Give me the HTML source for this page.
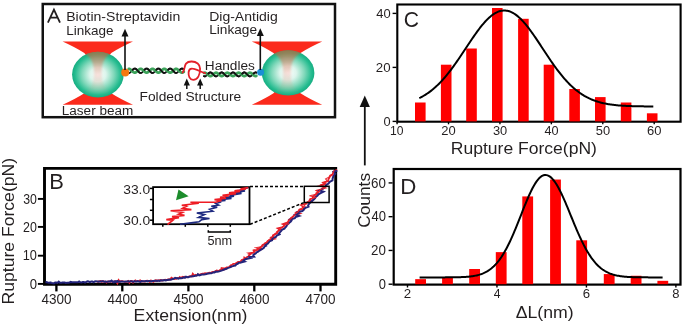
<!DOCTYPE html>
<html><head><meta charset="utf-8"><title>Figure</title>
<style>html,body{margin:0;padding:0;background:#fff;width:685px;height:325px;overflow:hidden}svg{display:block;will-change:transform}text{font-family:"Liberation Sans",sans-serif}</style>
</head><body>
<svg width="685" height="325" viewBox="0 0 685 325" font-family="Liberation Sans, sans-serif">
<defs>
<radialGradient id="sph" cx="50%" cy="50%" r="52%">
 <stop offset="0" stop-color="#fbfefd"/>
 <stop offset="0.3" stop-color="#dcf5ec"/>
 <stop offset="0.6" stop-color="#80d8ba"/>
 <stop offset="0.85" stop-color="#26bc90"/>
 <stop offset="1" stop-color="#10a87c"/>
</radialGradient>
<linearGradient id="ovl" x1="0" y1="0" x2="0" y2="1">
 <stop offset="0.15" stop-color="#d85a30" stop-opacity="0.62"/>
 <stop offset="0.3" stop-color="#e06040" stop-opacity="0.45"/>
 <stop offset="0.5" stop-color="#f07a68" stop-opacity="0.24"/>
 <stop offset="0.68" stop-color="#f07a68" stop-opacity="0.14"/>
 <stop offset="0.85" stop-color="#f07a68" stop-opacity="0.0"/>
</linearGradient>
<filter id="bl" x="-20%" y="-20%" width="140%" height="140%"><feGaussianBlur stdDeviation="1.1"/></filter>
<clipPath id="c1"><ellipse cx="97.9" cy="74.6" rx="25.8" ry="22.8"/></clipPath>
<clipPath id="c2"><ellipse cx="288.1" cy="72.9" rx="26.3" ry="22.6"/></clipPath>
</defs>
<rect width="685" height="325" fill="#fff"/>
<rect x="42.75" y="4" width="292.25" height="113.2" fill="none" stroke="#111" stroke-width="2.5"/>
<path d="M62.599999999999994,41.4 L133.0,41.4 Q119.8,47.4 111.3,52.9 Q102.0,63.0 102.0,73.0 Q102.0,83.0 111.3,93.2 Q119.8,98.7 133.0,104.7 L62.599999999999994,104.7 Q75.8,98.7 84.3,93.2 Q93.6,83.0 93.6,73.0 Q93.6,63.0 84.3,52.9 Q75.8,47.4 62.599999999999994,41.4 Z" fill="#fb2a1c"/>
<ellipse cx="97.9" cy="74.6" rx="25.8" ry="22.8" fill="url(#sph)"/>
<g clip-path="url(#c1)"><path d="M61.8,41.4 L133.8,41.4 L111.8,52.4 C103.8,57.4 101.6,64.0 101.6,73.0 C101.6,82.0 103.8,88.7 111.8,93.7 L133.8,104.7 L61.8,104.7 L83.8,93.7 C91.8,88.7 94.0,82.0 94.0,73.0 C94.0,64.0 91.8,57.4 83.8,52.4 Z" fill="url(#ovl)" filter="url(#bl)"/></g>
<path d="M251.8,41.4 L322.2,41.4 Q309.0,47.4 300.5,52.9 Q291.2,63.0 291.2,73.0 Q291.2,83.0 300.5,93.2 Q309.0,98.7 322.2,104.7 L251.8,104.7 Q265.0,98.7 273.5,93.2 Q282.8,83.0 282.8,73.0 Q282.8,63.0 273.5,52.9 Q265.0,47.4 251.8,41.4 Z" fill="#fb2a1c"/>
<ellipse cx="288.1" cy="72.9" rx="26.3" ry="22.6" fill="url(#sph)"/>
<g clip-path="url(#c2)"><path d="M251.0,41.4 L323.0,41.4 L301.0,52.4 C293.0,57.4 290.8,64.0 290.8,73.0 C290.8,82.0 293.0,88.7 301.0,93.7 L323.0,104.7 L251.0,104.7 L273.0,93.7 C281.0,88.7 283.2,82.0 283.2,73.0 C283.2,64.0 281.0,57.4 273.0,52.4 Z" fill="url(#ovl)" filter="url(#bl)"/></g>
<polyline points="128.80,72.95 129.00,72.95 129.20,72.92 129.40,72.87 129.60,72.80 129.80,72.70 130.00,72.58 130.20,72.44 130.40,72.28 130.60,72.11 130.80,71.92 131.00,71.71 131.20,71.50 131.40,71.27 131.60,71.04 131.80,70.81 132.00,70.57 132.20,70.34 132.40,70.11 132.60,69.89 132.80,69.68 133.00,69.49 133.20,69.30 133.40,69.13 133.60,68.98 133.80,68.85 134.00,68.75 134.20,68.66 134.40,68.60 134.60,68.56 134.80,68.55 135.00,68.56 135.20,68.60 135.40,68.66 135.60,68.75 135.80,68.85 136.00,68.98 136.20,69.13 136.40,69.30 136.60,69.49 136.80,69.68 137.00,69.89 137.20,70.11 137.40,70.34 137.60,70.57 137.80,70.81 138.00,71.04 138.20,71.27 138.40,71.50 138.60,71.71 138.80,71.92 139.00,72.11 139.20,72.28 139.40,72.44 139.60,72.58 139.80,72.70 140.00,72.80 140.20,72.87 140.40,72.92 140.60,72.95 140.80,72.95 141.00,72.92 141.20,72.87 141.40,72.80 141.60,72.70 141.80,72.58 142.00,72.44 142.20,72.28 142.40,72.11 142.60,71.92 142.80,71.71 143.00,71.50 143.20,71.27 143.40,71.04 143.60,70.81 143.80,70.57 144.00,70.34 144.20,70.11 144.40,69.89 144.60,69.68 144.80,69.49 145.00,69.30 145.20,69.13 145.40,68.98 145.60,68.85 145.80,68.75 146.00,68.66 146.20,68.60 146.40,68.56 146.60,68.55 146.80,68.56 147.00,68.60 147.20,68.66 147.40,68.75 147.60,68.85 147.80,68.98 148.00,69.13 148.20,69.30 148.40,69.49 148.60,69.68 148.80,69.89 149.00,70.11 149.20,70.34 149.40,70.57 149.60,70.81 149.80,71.04 150.00,71.27 150.20,71.50 150.40,71.71 150.60,71.92 150.80,72.11 151.00,72.28 151.20,72.44 151.40,72.58 151.60,72.70 151.80,72.80 152.00,72.87 152.20,72.92 152.40,72.95 152.60,72.95 152.80,72.92 153.00,72.87 153.20,72.80 153.40,72.70 153.60,72.58 153.80,72.44 154.00,72.28 154.20,72.11 154.40,71.92 154.60,71.71 154.80,71.50 155.00,71.27 155.20,71.04 155.40,70.81 155.60,70.57 155.80,70.34 156.00,70.11 156.20,69.89 156.40,69.68 156.60,69.49 156.80,69.30 157.00,69.13 157.20,68.98 157.40,68.85 157.60,68.75 157.80,68.66 158.00,68.60 158.20,68.56 158.40,68.55 158.60,68.56 158.80,68.60 159.00,68.66 159.20,68.75 159.40,68.85 159.60,68.98 159.80,69.13 160.00,69.30 160.20,69.49 160.40,69.68 160.60,69.89 160.80,70.11 161.00,70.34 161.20,70.57 161.40,70.81 161.60,71.04 161.80,71.27 162.00,71.50 162.20,71.71 162.40,71.92 162.60,72.11 162.80,72.28 163.00,72.44 163.20,72.58 163.40,72.70 163.60,72.80 163.80,72.87 164.00,72.92 164.20,72.95 164.40,72.95 164.60,72.92 164.80,72.87 165.00,72.80 165.20,72.70 165.40,72.58 165.60,72.44 165.80,72.28 166.00,72.11 166.20,71.92 166.40,71.71 166.60,71.50 166.80,71.27 167.00,71.04 167.20,70.81 167.40,70.57 167.60,70.34 167.80,70.11 168.00,69.89 168.20,69.68 168.40,69.49 168.60,69.30 168.80,69.13 169.00,68.98 169.20,68.85 169.40,68.75 169.60,68.66 169.80,68.60 170.00,68.56 170.20,68.55 170.40,68.56 170.60,68.60 170.80,68.66 171.00,68.75 171.20,68.85 171.40,68.98 171.60,69.13 171.80,69.30 172.00,69.49 172.20,69.68 172.40,69.89 172.60,70.11 172.80,70.34 173.00,70.57 173.20,70.81 173.40,71.04 173.60,71.27 173.80,71.50 174.00,71.71 174.20,71.92 174.40,72.11 174.60,72.28 174.80,72.44 175.00,72.58 175.20,72.70 175.40,72.80 175.60,72.87 175.80,72.92 176.00,72.95 176.20,72.95 176.40,72.92 176.60,72.87 176.80,72.80 177.00,72.70 177.20,72.58 177.40,72.44 177.60,72.28 177.80,72.11 178.00,71.92 178.20,71.71 178.40,71.50 178.60,71.27 178.80,71.04 179.00,70.81 179.20,70.57 179.40,70.34 179.60,70.11 179.80,69.89 180.00,69.68 180.20,69.49 180.40,69.30 180.60,69.13 180.80,68.98 181.00,68.85 181.20,68.75 181.40,68.66 181.60,68.60 181.80,68.56 182.00,68.55 182.20,68.56 182.40,68.60 182.60,68.66 182.80,68.75 183.00,68.85 183.20,68.98 183.40,69.13 183.60,69.30 183.80,69.49" fill="none" stroke="#111" stroke-width="1.8" stroke-linecap="round"/>
<polyline points="128.80,68.88 129.00,68.88 129.20,68.90 129.40,68.95 129.60,69.01 129.80,69.09 130.00,69.19 130.20,69.31 130.40,69.45 130.60,69.60 130.80,69.76 131.00,69.93 131.20,70.12 131.40,70.31 131.60,70.50 131.80,70.70 132.00,70.90 132.20,71.10 132.40,71.29 132.60,71.48 132.80,71.66 133.00,71.82 133.20,71.98 133.40,72.12 133.60,72.25 133.80,72.36 134.00,72.45 134.20,72.53 134.40,72.58 134.60,72.61 134.80,72.62 135.00,72.61 135.20,72.58 135.40,72.53 135.60,72.45 135.80,72.36 136.00,72.25 136.20,72.12 136.40,71.98 136.60,71.82 136.80,71.66 137.00,71.48 137.20,71.29 137.40,71.10 137.60,70.90 137.80,70.70 138.00,70.50 138.20,70.31 138.40,70.12 138.60,69.93 138.80,69.76 139.00,69.60 139.20,69.45 139.40,69.31 139.60,69.19 139.80,69.09 140.00,69.01 140.20,68.95 140.40,68.90 140.60,68.88 140.80,68.88 141.00,68.90 141.20,68.95 141.40,69.01 141.60,69.09 141.80,69.19 142.00,69.31 142.20,69.45 142.40,69.60 142.60,69.76 142.80,69.93 143.00,70.12 143.20,70.31 143.40,70.50 143.60,70.70 143.80,70.90 144.00,71.10 144.20,71.29 144.40,71.48 144.60,71.66 144.80,71.82 145.00,71.98 145.20,72.12 145.40,72.25 145.60,72.36 145.80,72.45 146.00,72.53 146.20,72.58 146.40,72.61 146.60,72.62 146.80,72.61 147.00,72.58 147.20,72.53 147.40,72.45 147.60,72.36 147.80,72.25 148.00,72.12 148.20,71.98 148.40,71.82 148.60,71.66 148.80,71.48 149.00,71.29 149.20,71.10 149.40,70.90 149.60,70.70 149.80,70.50 150.00,70.31 150.20,70.12 150.40,69.93 150.60,69.76 150.80,69.60 151.00,69.45 151.20,69.31 151.40,69.19 151.60,69.09 151.80,69.01 152.00,68.95 152.20,68.90 152.40,68.88 152.60,68.88 152.80,68.90 153.00,68.95 153.20,69.01 153.40,69.09 153.60,69.19 153.80,69.31 154.00,69.45 154.20,69.60 154.40,69.76 154.60,69.93 154.80,70.12 155.00,70.31 155.20,70.50 155.40,70.70 155.60,70.90 155.80,71.10 156.00,71.29 156.20,71.48 156.40,71.66 156.60,71.82 156.80,71.98 157.00,72.12 157.20,72.25 157.40,72.36 157.60,72.45 157.80,72.53 158.00,72.58 158.20,72.61 158.40,72.62 158.60,72.61 158.80,72.58 159.00,72.53 159.20,72.45 159.40,72.36 159.60,72.25 159.80,72.12 160.00,71.98 160.20,71.82 160.40,71.66 160.60,71.48 160.80,71.29 161.00,71.10 161.20,70.90 161.40,70.70 161.60,70.50 161.80,70.31 162.00,70.12 162.20,69.93 162.40,69.76 162.60,69.60 162.80,69.45 163.00,69.31 163.20,69.19 163.40,69.09 163.60,69.01 163.80,68.95 164.00,68.90 164.20,68.88 164.40,68.88 164.60,68.90 164.80,68.95 165.00,69.01 165.20,69.09 165.40,69.19 165.60,69.31 165.80,69.45 166.00,69.60 166.20,69.76 166.40,69.93 166.60,70.12 166.80,70.31 167.00,70.50 167.20,70.70 167.40,70.90 167.60,71.10 167.80,71.29 168.00,71.48 168.20,71.66 168.40,71.82 168.60,71.98 168.80,72.12 169.00,72.25 169.20,72.36 169.40,72.45 169.60,72.53 169.80,72.58 170.00,72.61 170.20,72.62 170.40,72.61 170.60,72.58 170.80,72.53 171.00,72.45 171.20,72.36 171.40,72.25 171.60,72.12 171.80,71.98 172.00,71.82 172.20,71.66 172.40,71.48 172.60,71.29 172.80,71.10 173.00,70.90 173.20,70.70 173.40,70.50 173.60,70.31 173.80,70.12 174.00,69.93 174.20,69.76 174.40,69.60 174.60,69.45 174.80,69.31 175.00,69.19 175.20,69.09 175.40,69.01 175.60,68.95 175.80,68.90 176.00,68.88 176.20,68.88 176.40,68.90 176.60,68.95 176.80,69.01 177.00,69.09 177.20,69.19 177.40,69.31 177.60,69.45 177.80,69.60 178.00,69.76 178.20,69.93 178.40,70.12 178.60,70.31 178.80,70.50 179.00,70.70 179.20,70.90 179.40,71.10 179.60,71.29 179.80,71.48 180.00,71.66 180.20,71.82 180.40,71.98 180.60,72.12 180.80,72.25 181.00,72.36 181.20,72.45 181.40,72.53 181.60,72.58 181.80,72.61 182.00,72.62 182.20,72.61 182.40,72.58 182.60,72.53 182.80,72.45 183.00,72.36 183.20,72.25 183.40,72.12 183.60,71.98 183.80,71.82" fill="none" stroke="#3ca35a" stroke-width="2.8" stroke-linecap="round"/>
<polyline points="128.80,72.95 129.00,72.95" fill="none" stroke="#111" stroke-width="1.8" stroke-linecap="round"/>
<polyline points="132.60,69.89 132.80,69.68 133.00,69.49 133.20,69.30 133.40,69.13 133.60,68.98 133.80,68.85 134.00,68.75 134.20,68.66 134.40,68.60 134.60,68.56 134.80,68.55 135.00,68.56 135.20,68.60 135.40,68.66 135.60,68.75 135.80,68.85 136.00,68.98 136.20,69.13 136.40,69.30 136.60,69.49 136.80,69.68 137.00,69.89 137.20,70.11 137.40,70.34 137.60,70.57 137.80,70.81 138.00,71.04 138.20,71.27 138.40,71.50 138.60,71.71 138.80,71.92 139.00,72.11 139.20,72.28 139.40,72.44 139.60,72.58 139.80,72.70 140.00,72.80 140.20,72.87 140.40,72.92 140.60,72.95 140.80,72.95" fill="none" stroke="#111" stroke-width="1.8" stroke-linecap="round"/>
<polyline points="144.40,69.89 144.60,69.68 144.80,69.49 145.00,69.30 145.20,69.13 145.40,68.98 145.60,68.85 145.80,68.75 146.00,68.66 146.20,68.60 146.40,68.56 146.60,68.55 146.80,68.56 147.00,68.60 147.20,68.66 147.40,68.75 147.60,68.85 147.80,68.98 148.00,69.13 148.20,69.30 148.40,69.49 148.60,69.68 148.80,69.89 149.00,70.11 149.20,70.34 149.40,70.57 149.60,70.81 149.80,71.04 150.00,71.27 150.20,71.50 150.40,71.71 150.60,71.92 150.80,72.11 151.00,72.28 151.20,72.44 151.40,72.58 151.60,72.70 151.80,72.80 152.00,72.87 152.20,72.92 152.40,72.95 152.60,72.95" fill="none" stroke="#111" stroke-width="1.8" stroke-linecap="round"/>
<polyline points="156.20,69.89 156.40,69.68 156.60,69.49 156.80,69.30 157.00,69.13 157.20,68.98 157.40,68.85 157.60,68.75 157.80,68.66 158.00,68.60 158.20,68.56 158.40,68.55 158.60,68.56 158.80,68.60 159.00,68.66 159.20,68.75 159.40,68.85 159.60,68.98 159.80,69.13 160.00,69.30 160.20,69.49 160.40,69.68 160.60,69.89 160.80,70.11 161.00,70.34 161.20,70.57 161.40,70.81 161.60,71.04 161.80,71.27 162.00,71.50 162.20,71.71 162.40,71.92 162.60,72.11 162.80,72.28 163.00,72.44 163.20,72.58 163.40,72.70 163.60,72.80 163.80,72.87 164.00,72.92 164.20,72.95 164.40,72.95" fill="none" stroke="#111" stroke-width="1.8" stroke-linecap="round"/>
<polyline points="168.00,69.89 168.20,69.68 168.40,69.49 168.60,69.30 168.80,69.13 169.00,68.98 169.20,68.85 169.40,68.75 169.60,68.66 169.80,68.60 170.00,68.56 170.20,68.55 170.40,68.56 170.60,68.60 170.80,68.66 171.00,68.75 171.20,68.85 171.40,68.98 171.60,69.13 171.80,69.30 172.00,69.49 172.20,69.68 172.40,69.89 172.60,70.11 172.80,70.34 173.00,70.57 173.20,70.81 173.40,71.04 173.60,71.27 173.80,71.50 174.00,71.71 174.20,71.92 174.40,72.11 174.60,72.28 174.80,72.44 175.00,72.58 175.20,72.70 175.40,72.80 175.60,72.87 175.80,72.92 176.00,72.95 176.20,72.95" fill="none" stroke="#111" stroke-width="1.8" stroke-linecap="round"/>
<polyline points="179.80,69.89 180.00,69.68 180.20,69.49 180.40,69.30 180.60,69.13 180.80,68.98 181.00,68.85 181.20,68.75 181.40,68.66 181.60,68.60 181.80,68.56 182.00,68.55 182.20,68.56 182.40,68.60 182.60,68.66 182.80,68.75 183.00,68.85 183.20,68.98 183.40,69.13 183.60,69.30 183.80,69.49" fill="none" stroke="#111" stroke-width="1.8" stroke-linecap="round"/>
<polyline points="204.00,76.18 204.20,76.26 204.40,76.31 204.60,76.34 204.80,76.35 205.00,76.33 205.20,76.29 205.40,76.22 205.60,76.13 205.80,76.02 206.00,75.89 206.20,75.75 206.40,75.58 206.60,75.40 206.81,75.21 207.01,75.01 207.21,74.80 207.41,74.58 207.61,74.37 207.81,74.15 208.01,73.94 208.21,73.73 208.41,73.53 208.61,73.34 208.81,73.16 209.01,73.00 209.21,72.86 209.41,72.74 209.61,72.63 209.81,72.55 210.01,72.50 210.21,72.46 210.41,72.45 210.61,72.46 210.81,72.50 211.01,72.56 211.21,72.65 211.41,72.75 211.61,72.88 211.81,73.02 212.02,73.19 212.22,73.36 212.42,73.55 212.62,73.75 212.82,73.96 213.02,74.18 213.22,74.39 213.42,74.61 213.62,74.82 213.82,75.03 214.02,75.23 214.22,75.42 214.42,75.60 214.62,75.77 214.82,75.91 215.02,76.04 215.22,76.15 215.42,76.23 215.62,76.30 215.82,76.33 216.02,76.35 216.22,76.34 216.42,76.31 216.62,76.25 216.82,76.17 217.02,76.07 217.23,75.95 217.43,75.81 217.63,75.65 217.83,75.47 218.03,75.29 218.23,75.09 218.43,74.88 218.63,74.67 218.83,74.45 219.03,74.23 219.23,74.02 219.43,73.81 219.63,73.61 219.83,73.41 220.03,73.23 220.23,73.07 220.43,72.92 220.63,72.78 220.83,72.67 221.03,72.58 221.23,72.52 221.43,72.47 221.63,72.45 221.83,72.46 222.03,72.48 222.23,72.54 222.44,72.61 222.64,72.71 222.84,72.83 223.04,72.96 223.24,73.12 223.44,73.29 223.64,73.48 223.84,73.67 224.04,73.88 224.24,74.09 224.44,74.31 224.64,74.52 224.84,74.74 225.04,74.95 225.24,75.16 225.44,75.35 225.64,75.53 225.84,75.70 226.04,75.86 226.24,75.99 226.44,76.11 226.64,76.20 226.84,76.27 227.04,76.32 227.24,76.35 227.44,76.35 227.65,76.32 227.85,76.28 228.05,76.21 228.25,76.11 228.45,76.00 228.65,75.86 228.85,75.71 229.05,75.54 229.25,75.36 229.45,75.17 229.65,74.96 229.85,74.75 230.05,74.54 230.25,74.32 230.45,74.10 230.65,73.89 230.85,73.68 231.05,73.49 231.25,73.30 231.45,73.13 231.65,72.97 231.85,72.83 232.05,72.71 232.25,72.62 232.45,72.54 232.65,72.49 232.86,72.46 233.06,72.45 233.26,72.47 233.46,72.51 233.66,72.58 233.86,72.67 234.06,72.78 234.26,72.91 234.46,73.06 234.66,73.22 234.86,73.40 235.06,73.59 235.26,73.80 235.46,74.01 235.66,74.22 235.86,74.44 236.06,74.66 236.26,74.87 236.46,75.08 236.66,75.28 236.86,75.46 237.06,75.64 237.26,75.80 237.46,75.94 237.66,76.06 237.86,76.17 238.07,76.25 238.27,76.31 238.47,76.34 238.67,76.35 238.87,76.34 239.07,76.30 239.27,76.24 239.47,76.15 239.67,76.05 239.87,75.92 240.07,75.77 240.27,75.61 240.47,75.43 240.67,75.24 240.87,75.04 241.07,74.83 241.27,74.62 241.47,74.40 241.67,74.19 241.87,73.97 242.07,73.76 242.27,73.56 242.47,73.37 242.67,73.19 242.87,73.03 243.07,72.89 243.28,72.76 243.48,72.65 243.68,72.57 243.88,72.50 244.08,72.47 244.28,72.45 244.48,72.46 244.68,72.49 244.88,72.55 245.08,72.63 245.28,72.73 245.48,72.85 245.68,73.00 245.88,73.16 246.08,73.33 246.28,73.52 246.48,73.72 246.68,73.92 246.88,74.14 247.08,74.35 247.28,74.57 247.48,74.79 247.68,75.00 247.88,75.20 248.08,75.39 248.28,75.57 248.49,75.74 248.69,75.89 248.89,76.02 249.09,76.13 249.29,76.22 249.49,76.29 249.69,76.33 249.89,76.35 250.09,76.34 250.29,76.32 250.49,76.26 250.69,76.19 250.89,76.09 251.09,75.97 251.29,75.83 251.49,75.68 251.69,75.51 251.89,75.32 252.09,75.12 252.29,74.92 252.49,74.70 252.69,74.49 252.89,74.27 253.09,74.06 253.29,73.84 253.49,73.64 253.70,73.45 253.90,73.26 254.10,73.09 254.30,72.94 254.50,72.81 254.70,72.69 254.90,72.60 255.10,72.53 255.30,72.48 255.50,72.45 255.70,72.45 255.90,72.48 256.10,72.52 256.30,72.60" fill="none" stroke="#111" stroke-width="1.8" stroke-linecap="round"/>
<polyline points="204.00,72.88 204.20,72.82 204.40,72.77 204.60,72.75 204.80,72.74 205.00,72.76 205.20,72.79 205.40,72.85 205.60,72.93 205.80,73.02 206.00,73.13 206.20,73.26 206.40,73.40 206.60,73.55 206.81,73.71 207.01,73.88 207.21,74.06 207.41,74.24 207.61,74.43 207.81,74.61 208.01,74.79 208.21,74.97 208.41,75.14 208.61,75.30 208.81,75.45 209.01,75.59 209.21,75.71 209.41,75.81 209.61,75.90 209.81,75.97 210.01,76.02 210.21,76.05 210.41,76.06 210.61,76.05 210.81,76.01 211.01,75.96 211.21,75.89 211.41,75.80 211.61,75.69 211.81,75.57 212.02,75.43 212.22,75.28 212.42,75.12 212.62,74.95 212.82,74.77 213.02,74.59 213.22,74.41 213.42,74.22 213.62,74.04 213.82,73.86 214.02,73.69 214.22,73.53 214.42,73.38 214.62,73.24 214.82,73.11 215.02,73.01 215.22,72.92 215.42,72.84 215.62,72.79 215.82,72.76 216.02,72.74 216.22,72.75 216.42,72.78 216.62,72.83 216.82,72.89 217.02,72.98 217.23,73.08 217.43,73.20 217.63,73.34 217.83,73.49 218.03,73.65 218.23,73.82 218.43,73.99 218.63,74.17 218.83,74.36 219.03,74.54 219.23,74.72 219.43,74.90 219.63,75.08 219.83,75.24 220.03,75.39 220.23,75.53 220.43,75.66 220.63,75.77 220.83,75.87 221.03,75.94 221.23,76.00 221.43,76.04 221.63,76.06 221.83,76.05 222.03,76.03 222.23,75.98 222.44,75.92 222.64,75.84 222.84,75.74 223.04,75.62 223.24,75.49 223.44,75.34 223.64,75.19 223.84,75.02 224.04,74.84 224.24,74.66 224.44,74.48 224.64,74.29 224.84,74.11 225.04,73.93 225.24,73.76 225.44,73.59 225.64,73.44 225.84,73.29 226.04,73.16 226.24,73.05 226.44,72.95 226.64,72.87 226.84,72.81 227.04,72.77 227.24,72.75 227.44,72.74 227.65,72.76 227.85,72.81 228.05,72.87 228.25,72.94 228.45,73.04 228.65,73.16 228.85,73.28 229.05,73.43 229.25,73.58 229.45,73.75 229.65,73.92 229.85,74.10 230.05,74.28 230.25,74.47 230.45,74.65 230.65,74.83 230.85,75.01 231.05,75.18 231.25,75.33 231.45,75.48 231.65,75.61 231.85,75.73 232.05,75.83 232.25,75.92 232.45,75.98 232.65,76.03 232.86,76.05 233.06,76.06 233.26,76.04 233.46,76.00 233.66,75.95 233.86,75.87 234.06,75.78 234.26,75.67 234.46,75.54 234.66,75.40 234.86,75.25 235.06,75.08 235.26,74.91 235.46,74.73 235.66,74.55 235.86,74.37 236.06,74.18 236.26,74.00 236.46,73.83 236.66,73.66 236.86,73.50 237.06,73.35 237.26,73.21 237.46,73.09 237.66,72.99 237.86,72.90 238.07,72.83 238.27,72.78 238.47,72.75 238.67,72.74 238.87,72.75 239.07,72.79 239.27,72.84 239.47,72.91 239.67,73.00 239.87,73.11 240.07,73.23 240.27,73.37 240.47,73.52 240.67,73.68 240.87,73.85 241.07,74.03 241.27,74.21 241.47,74.40 241.67,74.58 241.87,74.76 242.07,74.94 242.27,75.11 242.47,75.27 242.67,75.42 242.87,75.56 243.07,75.69 243.28,75.80 243.48,75.89 243.68,75.96 243.88,76.01 244.08,76.04 244.28,76.06 244.48,76.05 244.68,76.02 244.88,75.97 245.08,75.90 245.28,75.82 245.48,75.71 245.68,75.59 245.88,75.46 246.08,75.31 246.28,75.15 246.48,74.98 246.68,74.80 246.88,74.62 247.08,74.44 247.28,74.25 247.48,74.07 247.68,73.89 247.88,73.72 248.08,73.56 248.28,73.40 248.49,73.26 248.69,73.14 248.89,73.02 249.09,72.93 249.29,72.85 249.49,72.80 249.69,72.76 249.89,72.74 250.09,72.75 250.29,72.77 250.49,72.82 250.69,72.88 250.89,72.96 251.09,73.06 251.29,73.18 251.49,73.31 251.69,73.46 251.89,73.62 252.09,73.79 252.29,73.96 252.49,74.14 252.69,74.32 252.89,74.51 253.09,74.69 253.29,74.87 253.49,75.05 253.70,75.21 253.90,75.37 254.10,75.51 254.30,75.64 254.50,75.76 254.70,75.85 254.90,75.93 255.10,75.99 255.30,76.03 255.50,76.05 255.70,76.05 255.90,76.03 256.10,75.99 256.30,75.93" fill="none" stroke="#3ca35a" stroke-width="2.8" stroke-linecap="round"/>
<polyline points="204.00,76.18 204.20,76.26 204.40,76.31 204.60,76.34 204.80,76.35" fill="none" stroke="#111" stroke-width="1.8" stroke-linecap="round"/>
<polyline points="208.21,73.73 208.41,73.53 208.61,73.34 208.81,73.16 209.01,73.00 209.21,72.86 209.41,72.74 209.61,72.63 209.81,72.55 210.01,72.50 210.21,72.46 210.41,72.45 210.61,72.46 210.81,72.50 211.01,72.56 211.21,72.65 211.41,72.75 211.61,72.88 211.81,73.02 212.02,73.19 212.22,73.36 212.42,73.55 212.62,73.75 212.82,73.96 213.02,74.18 213.22,74.39 213.42,74.61 213.62,74.82 213.82,75.03 214.02,75.23 214.22,75.42 214.42,75.60 214.62,75.77 214.82,75.91 215.02,76.04 215.22,76.15 215.42,76.23 215.62,76.30 215.82,76.33 216.02,76.35 216.22,76.34" fill="none" stroke="#111" stroke-width="1.8" stroke-linecap="round"/>
<polyline points="219.63,73.61 219.83,73.41 220.03,73.23 220.23,73.07 220.43,72.92 220.63,72.78 220.83,72.67 221.03,72.58 221.23,72.52 221.43,72.47 221.63,72.45 221.83,72.46 222.03,72.48 222.23,72.54 222.44,72.61 222.64,72.71 222.84,72.83 223.04,72.96 223.24,73.12 223.44,73.29 223.64,73.48 223.84,73.67 224.04,73.88 224.24,74.09 224.44,74.31 224.64,74.52 224.84,74.74 225.04,74.95 225.24,75.16 225.44,75.35 225.64,75.53 225.84,75.70 226.04,75.86 226.24,75.99 226.44,76.11 226.64,76.20 226.84,76.27 227.04,76.32 227.24,76.35 227.44,76.35" fill="none" stroke="#111" stroke-width="1.8" stroke-linecap="round"/>
<polyline points="230.85,73.68 231.05,73.49 231.25,73.30 231.45,73.13 231.65,72.97 231.85,72.83 232.05,72.71 232.25,72.62 232.45,72.54 232.65,72.49 232.86,72.46 233.06,72.45 233.26,72.47 233.46,72.51 233.66,72.58 233.86,72.67 234.06,72.78 234.26,72.91 234.46,73.06 234.66,73.22 234.86,73.40 235.06,73.59 235.26,73.80 235.46,74.01 235.66,74.22 235.86,74.44 236.06,74.66 236.26,74.87 236.46,75.08 236.66,75.28 236.86,75.46 237.06,75.64 237.26,75.80 237.46,75.94 237.66,76.06 237.86,76.17 238.07,76.25 238.27,76.31 238.47,76.34 238.67,76.35 238.87,76.34" fill="none" stroke="#111" stroke-width="1.8" stroke-linecap="round"/>
<polyline points="242.07,73.76 242.27,73.56 242.47,73.37 242.67,73.19 242.87,73.03 243.07,72.89 243.28,72.76 243.48,72.65 243.68,72.57 243.88,72.50 244.08,72.47 244.28,72.45 244.48,72.46 244.68,72.49 244.88,72.55 245.08,72.63 245.28,72.73 245.48,72.85 245.68,73.00 245.88,73.16 246.08,73.33 246.28,73.52 246.48,73.72 246.68,73.92 246.88,74.14 247.08,74.35 247.28,74.57 247.48,74.79 247.68,75.00 247.88,75.20 248.08,75.39 248.28,75.57 248.49,75.74 248.69,75.89 248.89,76.02 249.09,76.13 249.29,76.22 249.49,76.29 249.69,76.33 249.89,76.35 250.09,76.34" fill="none" stroke="#111" stroke-width="1.8" stroke-linecap="round"/>
<polyline points="253.49,73.64 253.70,73.45 253.90,73.26 254.10,73.09 254.30,72.94 254.50,72.81 254.70,72.69 254.90,72.60 255.10,72.53 255.30,72.48 255.50,72.45 255.70,72.45 255.90,72.48 256.10,72.52 256.30,72.60" fill="none" stroke="#111" stroke-width="1.8" stroke-linecap="round"/>
<path d="M182.5,72.6 C184.6,71 184.2,66 186,63.6 C187.6,61.8 189.5,61.5 191.4,61.5 C196.5,61.4 200.2,64.5 200.1,68.8 C200,74.5 197.8,79.8 193.2,79.8 C189.6,79.8 188.3,75.8 188.6,72.2 C188.9,69.6 190.6,68.5 192.5,68.7 C196.5,69 201.5,72.3 205.2,73.2" fill="none" stroke="#e3202a" stroke-width="1.8" stroke-linecap="round"/>
<circle cx="125.2" cy="72.6" r="4" fill="#f5780f"/>
<circle cx="260.6" cy="72.3" r="3.5" fill="#1b8fd6"/>
<line x1="125.0" y1="70" x2="125.0" y2="35.5" stroke="#111" stroke-width="1.6"/><path d="M125.0,28.7 L128.5,36.5 L121.5,36.5 Z" fill="#111"/>
<line x1="260.3" y1="70" x2="260.3" y2="35.1" stroke="#111" stroke-width="1.6"/><path d="M260.3,28.3 L263.8,36.1 L256.8,36.1 Z" fill="#111"/>
<line x1="186.8" y1="89.0" x2="186.8" y2="84.60000000000001" stroke="#111" stroke-width="1.5"/><path d="M186.8,78.4 L189.9,85.60000000000001 L183.70000000000002,85.60000000000001 Z" fill="#111"/>
<line x1="200.2" y1="89.0" x2="200.2" y2="84.60000000000001" stroke="#111" stroke-width="1.5"/><path d="M200.2,78.4 L203.29999999999998,85.60000000000001 L197.1,85.60000000000001 Z" fill="#111"/>
<path d="M47.9,22.7 L53.95,9.7 L60.0,22.7 M50.3,17.6 L57.6,17.6" fill="none" stroke="#231f20" stroke-width="1.8" stroke-linejoin="miter" stroke-miterlimit="10"/>
<text x="66.17" y="20.80" font-size="12.6" textLength="114.15" lengthAdjust="spacingAndGlyphs" fill="#231f20" >Biotin-Streptavidin</text>
<text x="66.17" y="34.60" font-size="12.6" textLength="47.29" lengthAdjust="spacingAndGlyphs" fill="#231f20" >Linkage</text>
<text x="209.18" y="20.60" font-size="12.4" textLength="68.52" lengthAdjust="spacingAndGlyphs" fill="#231f20" >Dig-Antidig</text>
<text x="209.18" y="33.90" font-size="12.4" textLength="47.87" lengthAdjust="spacingAndGlyphs" fill="#231f20" >Linkage</text>
<text x="204.79" y="69.70" font-size="12.3" textLength="50.05" lengthAdjust="spacingAndGlyphs" fill="#231f20" >Handles</text>
<text x="139.59" y="100.80" font-size="12.3" textLength="101.66" lengthAdjust="spacingAndGlyphs" fill="#231f20" >Folded Structure</text>
<text x="61.77" y="114.70" font-size="12.5" textLength="71.55" lengthAdjust="spacingAndGlyphs" fill="#231f20" >Laser beam</text>
<path d="M44.5,168.4 L335.7,168.4 L335.7,284.2 L44.5,284.2 Z" fill="none" stroke="#000" stroke-width="2.9"/>
<line x1="37.9" y1="198.9" x2="44" y2="198.9" stroke="#000" stroke-width="1.9"/>
<text x="23.27" y="203.50" font-size="13.9" textLength="13.67" lengthAdjust="spacingAndGlyphs" fill="#231f20" >30</text>
<line x1="37.9" y1="226.9" x2="44" y2="226.9" stroke="#000" stroke-width="1.9"/>
<text x="23.10" y="231.50" font-size="13.9" textLength="13.84" lengthAdjust="spacingAndGlyphs" fill="#231f20" >20</text>
<line x1="37.9" y1="255.7" x2="44" y2="255.7" stroke="#000" stroke-width="1.9"/>
<text x="22.74" y="260.30" font-size="13.9" textLength="14.20" lengthAdjust="spacingAndGlyphs" fill="#231f20" >10</text>
<line x1="37.9" y1="283.9" x2="44" y2="283.9" stroke="#000" stroke-width="1.9"/>
<text x="29.66" y="288.50" font-size="13.9" textLength="7.29" lengthAdjust="spacingAndGlyphs" fill="#231f20" >0</text>
<line x1="56.4" y1="285" x2="56.4" y2="291.4" stroke="#000" stroke-width="2.3"/>
<text x="41.48" y="303.60" font-size="13.9" textLength="30.06" lengthAdjust="spacingAndGlyphs" fill="#231f20" >4300</text>
<line x1="122.3" y1="285" x2="122.3" y2="291.4" stroke="#000" stroke-width="2.3"/>
<text x="107.38" y="303.60" font-size="13.9" textLength="30.06" lengthAdjust="spacingAndGlyphs" fill="#231f20" >4400</text>
<line x1="188.4" y1="285" x2="188.4" y2="291.4" stroke="#000" stroke-width="2.3"/>
<text x="173.48" y="303.60" font-size="13.9" textLength="30.06" lengthAdjust="spacingAndGlyphs" fill="#231f20" >4500</text>
<line x1="254.3" y1="285" x2="254.3" y2="291.4" stroke="#000" stroke-width="2.3"/>
<text x="239.38" y="303.60" font-size="13.9" textLength="30.06" lengthAdjust="spacingAndGlyphs" fill="#231f20" >4600</text>
<line x1="320.5" y1="285" x2="320.5" y2="291.4" stroke="#000" stroke-width="2.3"/>
<text x="305.58" y="303.60" font-size="13.9" textLength="30.06" lengthAdjust="spacingAndGlyphs" fill="#231f20" >4700</text>
<text x="133.64" y="320.80" font-size="16.6" textLength="113.89" lengthAdjust="spacingAndGlyphs" fill="#231f20" >Extension(nm)</text>
<text transform="translate(14.00,304.51) rotate(-90)" x="0" y="0" font-size="16.0" textLength="146.60" lengthAdjust="spacingAndGlyphs" fill="#231f20">Rupture Force(pN)</text>
<text x="49.15" y="188.80" font-size="22.5" textLength="14.63" lengthAdjust="spacingAndGlyphs" fill="#231f20" >B</text>
<polyline points="96.99,281.76 98.23,281.63 99.38,281.30 100.60,280.94 101.81,281.84 102.97,281.01 104.22,281.85 105.40,281.68 106.60,282.61 107.81,281.42 109.04,281.63 110.20,281.36 111.41,281.59 112.62,281.54 113.78,281.78 114.99,281.32 116.24,281.73 117.40,283.35 118.59,280.09 119.84,281.60 121.01,281.20 122.18,281.11 123.40,281.37 124.59,281.58 125.84,281.84 127.06,281.56 128.20,280.97 129.42,282.88 130.62,280.95 131.82,280.99 133.05,282.58 134.22,281.35 135.35,280.35 136.59,281.20 137.80,281.11 139.01,280.74 140.20,280.32 141.42,281.39 142.60,281.10 143.83,281.29 144.99,281.47 146.12,280.91 147.45,280.72 148.62,281.03 149.79,281.97 150.99,280.43 152.29,281.19 153.42,281.89 154.62,280.65 155.78,280.15 156.98,280.35 158.13,280.60 155.10,281.21 160.83,280.02 161.78,280.47 163.02,280.29 164.29,279.83 165.33,279.70 166.61,280.30 167.83,279.46 169.08,279.50 170.22,279.38 171.50,277.66 172.82,278.42 173.89,278.98 174.90,278.57 176.23,278.79 177.28,277.97 178.57,278.31 179.76,277.10 180.93,278.15 182.36,276.92 183.39,277.40 184.68,276.79 185.97,277.42 187.02,276.79 188.25,276.82 189.60,276.35 190.53,276.17 191.78,276.43 192.78,273.84 194.36,275.66 195.61,274.91 196.38,275.39 197.79,274.48 199.03,274.68 200.16,274.31 201.06,273.99 202.53,273.59 204.02,273.55 205.05,273.18 206.39,273.30 207.52,273.47 208.69,272.94 209.55,272.58 211.31,272.85 212.25,271.89 213.57,272.07 214.63,271.62 215.62,271.19 216.54,270.55 218.27,270.96 219.25,270.70 220.42,269.66 221.68,269.96 226.34,268.96 220.74,268.26 225.17,268.29 226.75,267.40 231.52,266.81 228.90,266.59 229.74,266.46 231.06,264.99 232.02,264.87 233.20,263.87 234.85,263.94 235.56,263.40 237.08,262.53 238.12,261.81 240.54,261.65 240.92,261.07 241.74,260.01 244.28,259.03 244.30,257.52 245.18,257.91 246.50,258.23 247.26,256.72 249.35,256.09 248.75,255.15 250.74,253.93 249.25,253.29 253.65,252.63 254.56,251.90 254.63,250.96 252.81,250.47 262.49,249.12 258.73,248.39 260.71,247.23 261.51,246.56 262.55,245.02 264.49,244.15 264.77,243.41 267.08,242.25 267.56,241.10 268.82,240.22 274.42,238.78 271.47,237.41 272.78,236.86 272.92,235.43 274.93,234.39 277.32,233.08 277.08,231.89 278.83,230.61 280.20,229.71 277.86,228.38 281.86,227.33 284.30,225.97 284.75,224.98 282.88,224.10 287.79,222.40 288.48,221.30 288.70,220.07 290.34,218.99 290.79,218.24 292.95,216.82 294.15,215.46 295.30,214.64 299.77,213.45 296.41,212.26 298.89,210.94 299.43,209.81 304.20,208.58 302.78,207.40 302.98,206.58 301.16,205.05 306.25,203.68 306.95,202.70 311.34,201.39 309.64,200.08 310.85,198.96 312.91,197.95 312.61,196.83 314.05,195.79 315.86,194.30 317.34,193.23 318.60,191.84 316.77,190.57 321.58,189.34 323.58,187.69 323.63,186.34 321.60,184.97 325.36,183.95 323.25,182.60 328.36,181.00 328.42,179.21 329.44,177.58 330.07,175.57 332.63,174.40 333.05,173.01 334.37,170.89 337.16,169.83" fill="none" stroke="#e8202a" stroke-width="1.8" stroke-linejoin="miter"/>
<polyline points="45.50,282.46 46.70,282.12 47.91,282.63 49.10,282.81 50.31,282.77 51.51,282.56 49.60,282.61 53.91,283.51 55.12,282.59 56.32,282.49 57.50,282.90 58.72,281.64 59.90,282.80 61.10,282.86 62.31,282.52 63.53,282.56 64.71,282.48 65.92,282.92 67.10,282.65 68.33,282.70 69.54,282.53 70.68,281.92 71.89,282.24 73.12,282.36 74.31,282.33 75.50,282.35 76.69,282.28 77.92,282.24 79.10,281.43 80.32,282.31 81.50,282.40 82.72,282.01 83.89,282.06 85.07,282.61 86.29,281.97 87.51,281.36 88.71,281.47 89.89,282.23 91.11,281.41 92.29,281.51 93.51,282.23 94.69,281.34 95.91,281.18 97.13,281.37 98.29,281.62 99.53,281.51 100.71,281.44 101.90,281.36 103.09,281.27 104.29,281.78 105.50,281.56 106.72,281.67 107.91,281.70 109.09,281.37 110.33,281.61 111.54,280.68 112.73,281.80 113.95,281.44 115.10,281.36 116.26,281.28 115.55,282.05 118.70,281.44 119.89,281.75 121.13,281.48 122.30,281.39 123.49,281.64 124.71,281.82 125.89,281.57 127.14,281.51 128.31,281.26 129.53,281.45 130.69,281.15 131.91,281.21 133.10,281.78 134.31,281.04 135.46,281.59 136.75,281.45 137.90,281.00 139.09,281.58 140.30,281.90 141.50,281.08 142.72,281.28 143.89,281.35 145.12,281.24 146.33,280.91 147.63,281.16 148.73,281.10 149.91,281.09 151.16,281.48 152.31,281.03 153.54,281.06 154.74,280.83 155.88,280.66 157.20,280.91 158.21,280.64 159.52,280.92 160.70,280.45 161.93,280.19 163.21,280.46 164.30,280.03 165.48,280.46 166.78,279.95 167.95,279.90 169.16,279.50 170.35,279.73 171.51,279.44 172.78,278.93 173.86,278.85 175.17,277.75 178.86,278.76 177.48,278.35 178.79,278.50 180.00,278.09 181.20,278.20 182.58,277.96 183.50,277.30 184.87,277.75 185.95,276.66 187.25,277.24 188.32,277.21 189.55,276.60 190.90,276.42 192.00,276.37 193.30,276.26 194.34,276.07 195.31,275.81 196.88,275.65 197.89,274.18 199.23,275.42 200.46,275.05 201.72,274.55 202.92,274.53 203.86,274.53 205.13,274.33 206.45,274.01 207.62,273.45 208.78,273.54 209.98,273.30 211.22,273.17 212.28,272.84 213.77,272.27 214.53,272.37 215.98,271.56 217.15,271.69 218.41,271.61 221.52,270.64 220.59,270.87 222.09,270.37 223.58,269.76 224.73,269.45 225.14,269.02 226.66,268.81 227.69,268.06 229.66,267.42 230.43,267.01 231.44,266.39 232.96,266.14 233.83,265.73 235.36,265.49 236.33,264.29 237.70,263.80 238.85,262.82 239.97,262.71 243.99,261.69 242.77,261.29 243.68,260.62 244.18,260.07 246.02,258.93 247.09,258.67 250.91,257.94 249.79,257.00 254.11,256.71 253.29,255.59 253.46,254.66 254.94,253.97 255.87,253.25 256.56,252.23 258.19,251.61 259.46,250.57 260.64,249.83 262.37,248.93 263.83,247.89 264.34,246.75 265.98,245.78 264.85,244.73 267.75,243.61 268.74,242.43 269.44,241.43 272.08,240.17 272.51,238.96 272.01,238.01 275.94,236.89 276.72,235.50 279.59,234.32 278.98,233.40 280.04,232.10 281.06,230.99 282.20,229.68 284.44,228.67 285.28,227.53 286.47,226.30 286.96,224.98 287.93,224.05 289.31,222.74 290.81,221.59 291.54,220.42 290.30,219.45 294.85,218.18 295.48,217.02 299.07,215.91 295.67,214.62 298.61,213.60 297.51,212.36 302.36,211.05 303.74,210.00 304.16,208.74 305.38,207.75 308.52,206.60 308.13,205.31 308.90,204.08 309.83,202.83 311.39,201.66 312.37,200.62 314.03,199.37 315.08,198.11 315.66,196.96 317.31,195.77 318.45,194.36 320.59,193.13 323.44,191.71 319.85,190.52 322.63,188.93 324.22,187.53 325.60,186.42 326.08,185.08 328.53,183.58 329.67,181.98 332.48,180.30 332.59,178.74 333.10,176.87 333.72,175.60 335.32,173.79 333.62,171.85 337.27,170.73" fill="none" stroke="#23237a" stroke-width="2.0" stroke-linejoin="miter"/>
<polyline points="253.15,251.86 255.87,250.75 257.92,249.87 258.08,248.72 255.77,247.73 262.38,246.47 263.40,245.24 264.54,243.89 266.58,242.51 267.77,241.14 269.14,239.68 270.86,238.19 273.03,236.87 273.74,235.40 274.74,233.98 276.33,232.61 278.10,231.10 279.01,229.63 281.00,228.17 283.61,226.68 283.91,225.04 288.48,223.90 287.62,222.21 288.70,220.76 290.31,219.22 291.90,217.99 292.51,216.55 294.46,215.04 295.22,213.66 297.60,212.19 298.96,210.80 299.14,209.36 302.98,207.77 304.88,206.36 304.30,204.83 305.51,203.33 307.22,201.91 310.18,200.38 309.82,198.91 316.26,197.38 309.44,195.75 316.51,194.41 316.17,192.74 319.44,191.30 319.94,189.70 325.81,187.93 318.77,186.09 324.23,184.59 322.83,182.87 327.25,181.03 325.65,178.84 329.71,176.74 332.58,174.90 332.78,173.16 334.10,170.43" fill="none" stroke="#e8202a" stroke-width="1.2" stroke-linejoin="miter" opacity="0.9"/>
<rect x="304.3" y="186.3" width="24.8" height="16.2" fill="none" stroke="#000" stroke-width="1.5"/>
<line x1="250" y1="186.5" x2="304" y2="186.4" stroke="#000" stroke-width="1.5" stroke-dasharray="3,2"/>
<line x1="250" y1="224.3" x2="304" y2="202.6" stroke="#000" stroke-width="1.5" stroke-dasharray="3,2"/>
<rect x="153.1" y="187.1" width="96.4" height="37.1" fill="#fff" stroke="#000" stroke-width="1.8"/>
<line x1="149.9" y1="188.4" x2="153" y2="188.4" stroke="#000" stroke-width="1.5"/>
<line x1="149.9" y1="199.5" x2="153" y2="199.5" stroke="#000" stroke-width="1.5"/>
<line x1="149.9" y1="210.3" x2="153" y2="210.3" stroke="#000" stroke-width="1.5"/>
<line x1="149.9" y1="220.2" x2="153" y2="220.2" stroke="#000" stroke-width="1.5"/>
<line x1="162.8" y1="224.5" x2="162.8" y2="226.8" stroke="#000" stroke-width="1.5"/>
<line x1="185.3" y1="224.5" x2="185.3" y2="226.8" stroke="#000" stroke-width="1.5"/>
<line x1="207.8" y1="224.5" x2="207.8" y2="226.8" stroke="#000" stroke-width="1.5"/>
<line x1="230.3" y1="224.5" x2="230.3" y2="226.8" stroke="#000" stroke-width="1.5"/>
<text x="123.19" y="193.80" font-size="13.5" textLength="26.94" lengthAdjust="spacingAndGlyphs" fill="#231f20" >33.0</text>
<text x="123.19" y="224.60" font-size="13.5" textLength="26.94" lengthAdjust="spacingAndGlyphs" fill="#231f20" >30.0</text>
<polyline points="180,224.2 193,222.6 199,221.8 201.8,219.6 209.5,218.5 198.5,217.4 204.5,214.6 196.8,213 212.8,211.2 209.6,209.2 217.2,207.3 211.3,206.2 218.6,205.1 215.8,203.6 220,202.2 218.5,201.2 225.5,200.4 220.5,199.6 231.5,198.4 225,197.6 234,196.3 229.5,195.4 241.5,193.4 234.5,192.6 245,191.0 240.5,190.1 248.5,187.5" fill="none" stroke="#1e2a80" stroke-width="1.6" stroke-linejoin="miter"/>
<polyline points="167.5,224.5 173,220.2 166.3,219.6 179,217.6 172,216.6 184.5,215.4 178.5,214.2 182.5,212.4 170.6,210.8 191.4,209.6 182.6,208.3 186.5,206.3 181.8,205.3 198.8,203.3 190.4,202.2 215.5,202.2 221.5,200.6 214.5,199.6 226,198.2 220,197.4 229,195.8 222.5,195.2 236,193.6 229,192.9 240,191.4 234.5,190.8 246,189.0 240.5,188.7 248.3,187.6" fill="none" stroke="#ee1c24" stroke-width="1.6" stroke-linejoin="miter"/>
<path d="M178.5,189.6 L188.6,196.3 L176,200.2 Z" fill="#1c8c2c"/>
<path d="M208.3,230.2 L208.3,232 L230.3,232 L230.3,230.2" fill="none" stroke="#000" stroke-width="1.5"/>
<text x="207.51" y="244.60" font-size="12.2" textLength="24.69" lengthAdjust="spacingAndGlyphs" fill="#231f20" >5nm</text>
<rect x="397.3" y="4.5" width="283.3" height="117.2" fill="none" stroke="#000" stroke-width="2.1"/>
<line x1="392.6" y1="121.4" x2="396.5" y2="121.4" stroke="#000" stroke-width="1.4"/>
<text x="383.49" y="125.90" font-size="13.0" textLength="7.12" lengthAdjust="spacingAndGlyphs" fill="#231f20" >0</text>
<line x1="392.6" y1="67.4" x2="396.5" y2="67.4" stroke="#000" stroke-width="1.4"/>
<text x="375.85" y="71.90" font-size="13.0" textLength="14.76" lengthAdjust="spacingAndGlyphs" fill="#231f20" >20</text>
<line x1="392.6" y1="13.4" x2="396.5" y2="13.4" stroke="#000" stroke-width="1.4"/>
<text x="376.20" y="17.90" font-size="13.0" textLength="14.41" lengthAdjust="spacingAndGlyphs" fill="#231f20" >40</text>
<line x1="397.10" y1="122" x2="397.10" y2="124.3" stroke="#000" stroke-width="1.4"/>
<text x="390.02" y="134.80" font-size="12.8" textLength="13.47" lengthAdjust="spacingAndGlyphs" fill="#231f20" >10</text>
<line x1="448.52" y1="122" x2="448.52" y2="124.3" stroke="#000" stroke-width="1.4"/>
<text x="441.38" y="134.80" font-size="12.8" textLength="14.44" lengthAdjust="spacingAndGlyphs" fill="#231f20" >20</text>
<line x1="499.94" y1="122" x2="499.94" y2="124.3" stroke="#000" stroke-width="1.4"/>
<text x="492.95" y="134.80" font-size="12.8" textLength="14.29" lengthAdjust="spacingAndGlyphs" fill="#231f20" >30</text>
<line x1="551.36" y1="122" x2="551.36" y2="124.3" stroke="#000" stroke-width="1.4"/>
<text x="544.57" y="134.80" font-size="12.8" textLength="14.09" lengthAdjust="spacingAndGlyphs" fill="#231f20" >40</text>
<line x1="602.78" y1="122" x2="602.78" y2="124.3" stroke="#000" stroke-width="1.4"/>
<text x="595.77" y="134.80" font-size="12.8" textLength="14.31" lengthAdjust="spacingAndGlyphs" fill="#231f20" >50</text>
<line x1="654.20" y1="122" x2="654.20" y2="124.3" stroke="#000" stroke-width="1.4"/>
<text x="647.05" y="134.80" font-size="12.8" textLength="14.45" lengthAdjust="spacingAndGlyphs" fill="#231f20" >60</text>
<rect x="415.0" y="102.50" width="10.6" height="18.90" fill="#ff0000"/>
<rect x="440.9" y="64.70" width="10.6" height="56.70" fill="#ff0000"/>
<rect x="466.2" y="48.50" width="10.6" height="72.90" fill="#ff0000"/>
<rect x="492.0" y="8.00" width="10.6" height="113.40" fill="#ff0000"/>
<rect x="518.1" y="18.80" width="10.6" height="102.60" fill="#ff0000"/>
<rect x="543.7" y="64.70" width="10.6" height="56.70" fill="#ff0000"/>
<rect x="569.3" y="89.00" width="10.6" height="32.40" fill="#ff0000"/>
<rect x="595.0" y="97.10" width="10.6" height="24.30" fill="#ff0000"/>
<rect x="620.8" y="102.50" width="10.6" height="18.90" fill="#ff0000"/>
<rect x="646.9" y="113.30" width="10.6" height="8.10" fill="#ff0000"/>
<polyline points="419.30,98.11 420.30,97.62 421.30,97.10 422.30,96.56 423.30,96.00 424.30,95.42 425.30,94.81 426.30,94.17 427.30,93.51 428.30,92.82 429.30,92.10 430.30,91.36 431.30,90.59 432.30,89.80 433.30,88.97 434.30,88.12 435.30,87.23 436.30,86.32 437.30,85.38 438.30,84.41 439.30,83.42 440.30,82.39 441.30,81.33 442.30,80.25 443.30,79.14 444.30,78.00 445.30,76.83 446.30,75.64 447.30,74.42 448.30,73.17 449.30,71.90 450.30,70.60 451.30,69.28 452.30,67.94 453.30,66.58 454.30,65.19 455.30,63.79 456.30,62.37 457.30,60.93 458.30,59.48 459.30,58.01 460.30,56.54 461.30,55.05 462.30,53.55 463.30,52.05 464.30,50.54 465.30,49.03 466.30,47.52 467.30,46.01 468.30,44.50 469.30,42.99 470.30,41.50 471.30,40.01 472.30,38.54 473.30,37.08 474.30,35.64 475.30,34.21 476.30,32.81 477.30,31.43 478.30,30.07 479.30,28.75 480.30,27.45 481.30,26.19 482.30,24.96 483.30,23.77 484.30,22.62 485.30,21.51 486.30,20.44 487.30,19.42 488.30,18.44 489.30,17.52 490.30,16.64 491.30,15.82 492.30,15.05 493.30,14.34 494.30,13.68 495.30,13.09 496.30,12.55 497.30,12.07 498.30,11.66 499.30,11.31 500.30,11.02 501.30,10.79 502.30,10.63 503.30,10.53 504.30,10.50 505.30,10.53 506.30,10.63 507.30,10.80 508.30,11.02 509.30,11.32 510.30,11.68 511.30,12.10 512.30,12.58 513.30,13.13 514.30,13.73 515.30,14.40 516.30,15.12 517.30,15.90 518.30,16.74 519.30,17.62 520.30,18.56 521.30,19.55 522.30,20.59 523.30,21.67 524.30,22.80 525.30,23.96 526.30,25.17 527.30,26.41 528.30,27.69 529.30,29.01 530.30,30.35 531.30,31.72 532.30,33.12 533.30,34.53 534.30,35.97 535.30,37.43 536.30,38.91 537.30,40.40 538.30,41.90 539.30,43.41 540.30,44.92 541.30,46.44 542.30,47.97 543.30,49.49 544.30,51.01 545.30,52.53 546.30,54.05 547.30,55.55 548.30,57.05 549.30,58.53 550.30,60.01 551.30,61.46 552.30,62.91 553.30,64.33 554.30,65.74 555.30,67.13 556.30,68.49 557.30,69.83 558.30,71.15 559.30,72.45 560.30,73.72 561.30,74.97 562.30,76.18 563.30,77.37 564.30,78.54 565.30,79.67 566.30,80.78 567.30,81.86 568.30,82.91 569.30,83.93 570.30,84.92 571.30,85.88 572.30,86.81 573.30,87.72 574.30,88.59 575.30,89.43 576.30,90.25 577.30,91.04 578.30,91.80 579.30,92.53 580.30,93.23 581.30,93.91 582.30,94.56 583.30,95.19 584.30,95.79 585.30,96.36 586.30,96.91 587.30,97.44 588.30,97.94 589.30,98.43 590.30,98.88 591.30,99.32 592.30,99.74 593.30,100.14 594.30,100.52 595.30,100.88 596.30,101.22 597.30,101.54 598.30,101.85 599.30,102.14 600.30,102.42 601.30,102.68 602.30,102.93 603.30,103.16 604.30,103.38 605.30,103.59 606.30,103.78 607.30,103.97 608.30,104.14 609.30,104.30 610.30,104.46 611.30,104.60 612.30,104.74 613.30,104.86 614.30,104.98 615.30,105.09 616.30,105.19 617.30,105.29 618.30,105.38 619.30,105.47 620.30,105.55 621.30,105.62 622.30,105.69 623.30,105.75 624.30,105.81 625.30,105.86 626.30,105.91 627.30,105.96 628.30,106.01 629.30,106.05 630.30,106.08 631.30,106.12 632.30,106.15 633.30,106.18 634.30,106.21 635.30,106.23 636.30,106.25 637.30,106.28 638.30,106.30 639.30,106.31 640.30,106.33 641.30,106.35 642.30,106.36 643.30,106.37 644.30,106.38 645.30,106.39 646.30,106.40 647.30,106.41 648.30,106.42 649.30,106.43 650.30,106.44 651.30,106.44 652.30,106.45 653.30,106.45" fill="none" stroke="#000" stroke-width="2"/>
<text x="403.70" y="26.50" font-size="21.7" textLength="15.23" lengthAdjust="spacingAndGlyphs" fill="#231f20" >C</text>
<text x="450.82" y="153.50" font-size="15.65" textLength="146.15" lengthAdjust="spacingAndGlyphs" fill="#231f20" >Rupture Force(pN)</text>
<line x1="364.8" y1="165.4" x2="364.8" y2="105.9" stroke="#111" stroke-width="1.8"/><path d="M364.8,95.5 L369.90000000000003,106.9 L359.7,106.9 Z" fill="#111"/>
<rect x="393.7" y="169" width="286.8" height="115.6" fill="none" stroke="#000" stroke-width="2.2"/>
<line x1="388.6" y1="284.20" x2="392.6" y2="284.20" stroke="#000" stroke-width="1.4"/>
<text x="378.76" y="289.00" font-size="13.9" textLength="7.19" lengthAdjust="spacingAndGlyphs" fill="#231f20" >0</text>
<line x1="388.6" y1="250.44" x2="392.6" y2="250.44" stroke="#000" stroke-width="1.4"/>
<text x="371.10" y="255.24" font-size="13.9" textLength="14.84" lengthAdjust="spacingAndGlyphs" fill="#231f20" >20</text>
<line x1="388.6" y1="216.68" x2="392.6" y2="216.68" stroke="#000" stroke-width="1.4"/>
<text x="371.48" y="221.48" font-size="13.9" textLength="14.46" lengthAdjust="spacingAndGlyphs" fill="#231f20" >40</text>
<line x1="388.6" y1="182.92" x2="392.6" y2="182.92" stroke="#000" stroke-width="1.4"/>
<text x="371.09" y="187.72" font-size="13.9" textLength="14.85" lengthAdjust="spacingAndGlyphs" fill="#231f20" >60</text>
<line x1="407.50" y1="285" x2="407.50" y2="287.5" stroke="#000" stroke-width="1.4"/>
<text x="403.85" y="297.90" font-size="13.0" textLength="7.41" lengthAdjust="spacingAndGlyphs" fill="#231f20" >2</text>
<line x1="496.96" y1="285" x2="496.96" y2="287.5" stroke="#000" stroke-width="1.4"/>
<text x="493.66" y="297.90" font-size="13.0" textLength="6.78" lengthAdjust="spacingAndGlyphs" fill="#231f20" >4</text>
<line x1="586.42" y1="285" x2="586.42" y2="287.5" stroke="#000" stroke-width="1.4"/>
<text x="582.76" y="297.90" font-size="13.0" textLength="7.33" lengthAdjust="spacingAndGlyphs" fill="#231f20" >6</text>
<line x1="675.88" y1="285" x2="675.88" y2="287.5" stroke="#000" stroke-width="1.4"/>
<text x="672.32" y="297.90" font-size="13.0" textLength="7.23" lengthAdjust="spacingAndGlyphs" fill="#231f20" >8</text>
<rect x="415.2" y="279.14" width="10.8" height="5.06" fill="#ff0000"/>
<rect x="442.1" y="277.45" width="10.8" height="6.75" fill="#ff0000"/>
<rect x="469.2" y="269.01" width="10.8" height="15.19" fill="#ff0000"/>
<rect x="495.8" y="252.13" width="10.8" height="32.07" fill="#ff0000"/>
<rect x="522.3" y="196.42" width="10.8" height="87.78" fill="#ff0000"/>
<rect x="550.1" y="179.54" width="10.8" height="104.66" fill="#ff0000"/>
<rect x="576.3" y="240.31" width="10.8" height="43.89" fill="#ff0000"/>
<rect x="603.8" y="274.07" width="10.8" height="10.13" fill="#ff0000"/>
<rect x="630.7" y="275.76" width="10.8" height="8.44" fill="#ff0000"/>
<rect x="657.4" y="280.82" width="10.8" height="3.38" fill="#ff0000"/>
<polyline points="419.60,277.40 420.60,277.40 421.60,277.40 422.60,277.40 423.60,277.40 424.60,277.40 425.60,277.40 426.60,277.40 427.60,277.40 428.60,277.40 429.60,277.40 430.60,277.40 431.60,277.40 432.60,277.40 433.60,277.40 434.60,277.40 435.60,277.40 436.60,277.39 437.60,277.39 438.60,277.39 439.60,277.39 440.60,277.39 441.60,277.39 442.60,277.38 443.60,277.38 444.60,277.38 445.60,277.37 446.60,277.37 447.60,277.36 448.60,277.36 449.60,277.35 450.60,277.34 451.60,277.33 452.60,277.32 453.60,277.31 454.60,277.29 455.60,277.28 456.60,277.26 457.60,277.23 458.60,277.21 459.60,277.18 460.60,277.14 461.60,277.10 462.60,277.06 463.60,277.01 464.60,276.95 465.60,276.89 466.60,276.82 467.60,276.74 468.60,276.65 469.60,276.55 470.60,276.43 471.60,276.30 472.60,276.16 473.60,276.00 474.60,275.83 475.60,275.63 476.60,275.41 477.60,275.17 478.60,274.91 479.60,274.62 480.60,274.30 481.60,273.95 482.60,273.57 483.60,273.15 484.60,272.69 485.60,272.19 486.60,271.65 487.60,271.07 488.60,270.43 489.60,269.75 490.60,269.01 491.60,268.21 492.60,267.36 493.60,266.45 494.60,265.47 495.60,264.42 496.60,263.31 497.60,262.13 498.60,260.88 499.60,259.56 500.60,258.16 501.60,256.69 502.60,255.14 503.60,253.51 504.60,251.81 505.60,250.03 506.60,248.18 507.60,246.25 508.60,244.26 509.60,242.19 510.60,240.06 511.60,237.86 512.60,235.61 513.60,233.30 514.60,230.94 515.60,228.53 516.60,226.09 517.60,223.61 518.60,221.11 519.60,218.58 520.60,216.05 521.60,213.52 522.60,210.99 523.60,208.48 524.60,205.99 525.60,203.53 526.60,201.12 527.60,198.75 528.60,196.45 529.60,194.23 530.60,192.08 531.60,190.02 532.60,188.06 533.60,186.21 534.60,184.48 535.60,182.87 536.60,181.40 537.60,180.06 538.60,178.87 539.60,177.83 540.60,176.95 541.60,176.22 542.60,175.67 543.60,175.28 544.60,175.05 545.60,175.00 546.60,175.12 547.60,175.39 548.60,175.82 549.60,176.40 550.60,177.14 551.60,178.03 552.60,179.06 553.60,180.24 554.60,181.55 555.60,182.99 556.60,184.56 557.60,186.24 558.60,188.03 559.60,189.92 560.60,191.91 561.60,193.98 562.60,196.13 563.60,198.35 564.60,200.62 565.60,202.95 566.60,205.32 567.60,207.72 568.60,210.15 569.60,212.59 570.60,215.05 571.60,217.50 572.60,219.95 573.60,222.38 574.60,224.79 575.60,227.18 576.60,229.53 577.60,231.84 578.60,234.11 579.60,236.33 580.60,238.50 581.60,240.61 582.60,242.66 583.60,244.65 584.60,246.57 585.60,248.42 586.60,250.21 587.60,251.92 588.60,253.57 589.60,255.14 590.60,256.64 591.60,258.07 592.60,259.43 593.60,260.72 594.60,261.94 595.60,263.10 596.60,264.19 597.60,265.21 598.60,266.18 599.60,267.08 600.60,267.92 601.60,268.71 602.60,269.45 603.60,270.14 604.60,270.77 605.60,271.36 606.60,271.91 607.60,272.41 608.60,272.88 609.60,273.31 610.60,273.70 611.60,274.06 612.60,274.39 613.60,274.69 614.60,274.97 615.60,275.22 616.60,275.45 617.60,275.65 618.60,275.84 619.60,276.01 620.60,276.16 621.60,276.30 622.60,276.43 623.60,276.54 624.60,276.64 625.60,276.73 626.60,276.81 627.60,276.88 628.60,276.94 629.60,277.00 630.60,277.05 631.60,277.09 632.60,277.13 633.60,277.16 634.60,277.20 635.60,277.22 636.60,277.25 637.60,277.27 638.60,277.28 639.60,277.30 640.60,277.31 641.60,277.33 642.60,277.34 643.60,277.35 644.60,277.35 645.60,277.36 646.60,277.37 647.60,277.37 648.60,277.38 649.60,277.38 650.60,277.38 651.60,277.38 652.60,277.39 653.60,277.39 654.60,277.39 655.60,277.39 656.60,277.39 657.60,277.39 658.60,277.40 659.60,277.40 660.60,277.40 661.60,277.40 662.60,277.40" fill="none" stroke="#000" stroke-width="2"/>
<text x="400.32" y="193.90" font-size="21.7" textLength="16.12" lengthAdjust="spacingAndGlyphs" fill="#231f20" >D</text>
<text transform="translate(370.30,227.82) rotate(-90)" x="0" y="0" font-size="16.2" textLength="54.91" lengthAdjust="spacingAndGlyphs" fill="#231f20">Counts</text>
<text x="515.72" y="317.90" font-size="16.0" textLength="57.97" lengthAdjust="spacingAndGlyphs" fill="#231f20" >ΔL(nm)</text>
</svg>
</body></html>
